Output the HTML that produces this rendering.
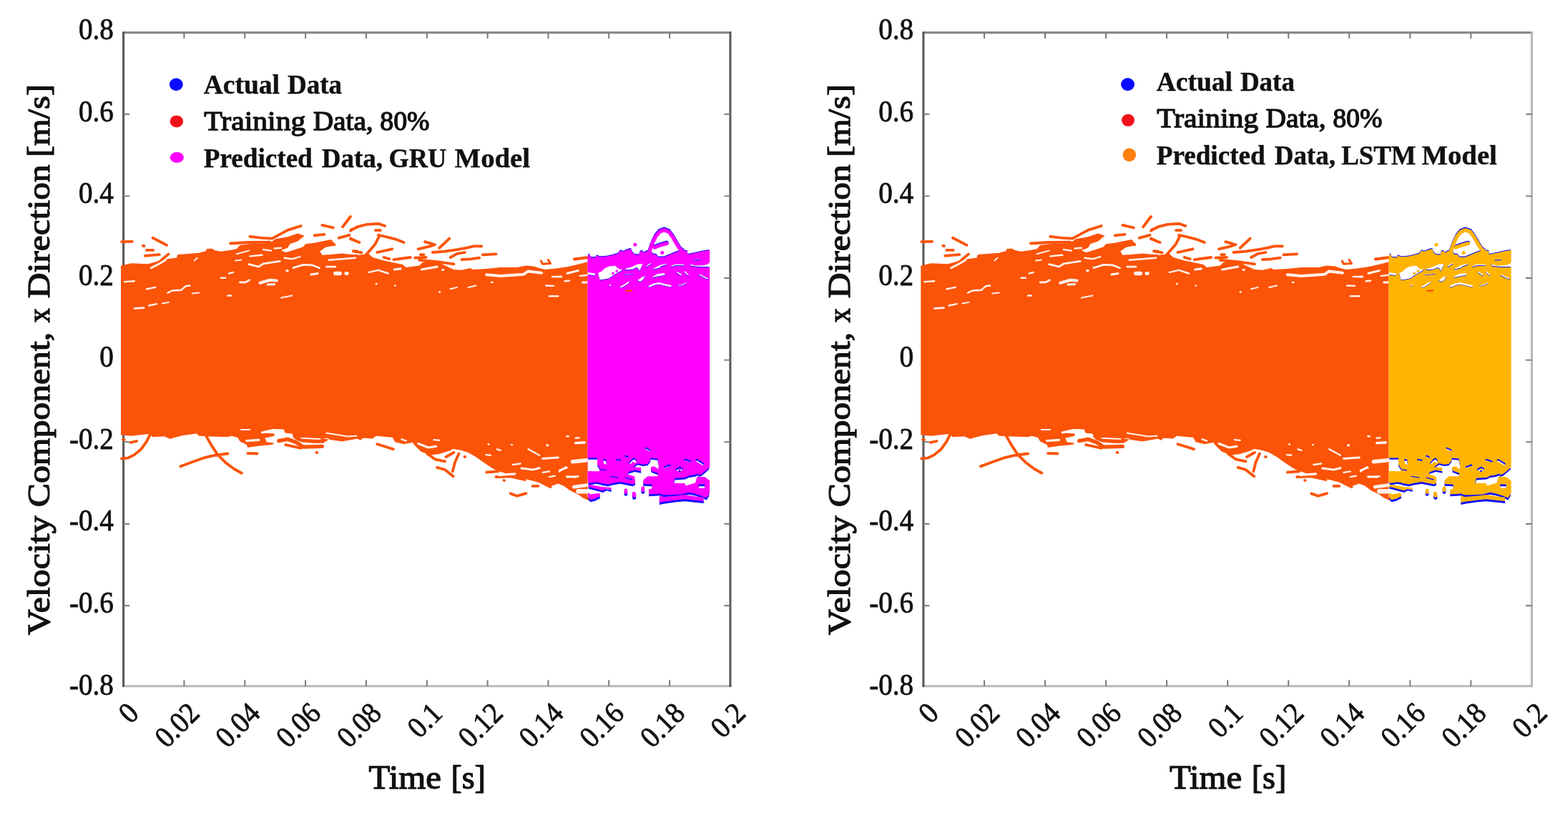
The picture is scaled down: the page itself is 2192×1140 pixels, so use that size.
<!DOCTYPE html>
<html lang="en"><head><meta charset="utf-8"><title>Velocity prediction: GRU vs LSTM</title>
<style>html,body{margin:0;padding:0;background:#fff;}body{width:2192px;height:1140px;overflow:hidden;}svg{display:block;}text{font-family:"Liberation Serif", serif;fill:#111;}.b{font-weight:normal;stroke:#111;stroke-width:1.3px;stroke-linejoin:round;}.bb{font-weight:bold;stroke:#111;stroke-width:.45px;stroke-linejoin:round;}.tk{font-size:41.6px;stroke:#111;stroke-width:.8px;}</style></head><body>
<svg width="2192" height="1140" viewBox="0 0 2192 1140">
<rect width="2192" height="1140" fill="#fff"/>
<defs>
<g id="train">
<path d="M169 371.6L170.1 371.6 183.3 368.2 206.6 369.3 222.1 365.1 234.5 362.3 246.9 360.4 248.5 356.1 278 353.7 288.1 351.1 288.9 348 296.6 347.7 300.5 350.2 309 351.7 321.5 349.9 330.8 348.3 335.4 342.9 348.6 341.3 377.4 339.8 385.1 334.3 402.2 331.2 416.2 326.6 425.5 329.7 416.2 337.4 405.3 341.3 402.2 346.8 392.9 349.9 399.1 353 408.4 350.6 423.9 345.2 427 341.3 439.5 339.8 462.7 335.1 466.6 339 468.2 342.9 455 346 447.2 351.4 450.3 356.8 462.7 356.1 478.3 354.5 489.1 355.8 500 356.1 499.3 356.8 508.6 356.1 513.3 353 521.1 360 536.6 364.6 549 366.9 563 370 567.6 373.9 586.3 371.6 590.9 366.9 601.8 364.6 614.2 366.9 622 371.6 634.4 377 645.3 377.8 657.7 375 660.8 377 676.3 376.3 699.6 373.9 722.9 373.9 735.3 371.6 746.2 372.4 753.9 375 761.7 377 777.2 375.5 792.7 373.2 808.3 369.7 821.5 366.2 821.5 366.2 821.5 698.2 823.8 698.2 816 694.8 809.8 690.4 800.5 685 789.6 680.3 780.3 676.4 769.5 680.3 753.9 674.9 738.4 671 722.9 667.1 707.4 662.5 691.8 657 685.6 653.2 676.3 646.9 665.4 639.2 654.6 633 645.3 629.9 635.9 628.3 629.7 628.3 614.2 633 598.7 633 589.4 630.6 583.2 625.2 576.9 619 564.5 621.3 552.1 618.2 549 612 525.7 609.7 521.1 613.6 507.1 612.8 504 615.9 497.8 612.8 500 613.6 478.3 617.4 461.2 615.1 458.1 612.8 447.2 613.9 431.7 614.3 420.8 611.5 410 611.2 408.4 606.6 399.1 605.8 396 601.1 377.4 601.1 364.9 605.3 383.6 606.6 383.6 609.7 370.4 612.8 372.7 618.2 383.6 619.8 380.5 622.1 361.8 623.7 346.3 626 344.7 622.1 335.4 617.4 332.3 612 323 609.7 318.4 611.2 292 610.5 278 609.7 274.9 606.6 256.3 608.9 246.9 611.2 237.6 613.9 229.9 610.5 212.8 611.2 209.7 606.9 203.5 607.4 183.3 609.7 170.1 608.4 169 608.4ZM408.8 610.6L447.9 613.2 460 614.4 452.2 619.7 439.2 619.9 421.8 618.4 413.2 615Z" fill="currentColor"/>
<path d="M756.3 365.1L758.6 369.3 769.5 368.5 766.3 363.5" fill="none" stroke="currentColor" stroke-width="3.1" stroke-linecap="round" stroke-linejoin="round"/>
<path d="M171.6 615.1L174 615.1M704.2 671.8L705 672.1" fill="none" stroke="currentColor" stroke-width="3.5" stroke-linecap="round" stroke-linejoin="round"/>
<path d="M170.1 338.2L184.8 337.8M213.6 332.8L233 342.9M205 349.9L214.3 349.9M202.7 357.9L222.9 356.1M206.6 373.9L222.1 366.9 235.3 355.6M322.2 340.5L347.9 339 377.4 338.7M349.4 330.9L366.5 332.8 380.5 333.6 402.2 321.9 420.8 316M450.3 314.9L465.8 318.5M479 317.3L489.9 303M439.5 329.4L453.4 327.8M473.6 332.8L488.4 328.9M490.7 321.6L500 317.6M489.9 333.6L500 338.2M451.9 342.9L467.4 342.1M493.8 351.1L500 351.7M490 322.7L499.3 317.3 513.3 313.8 528.8 312.9 538.1 316M524.9 322.2L531.9 322.2M490 334.3L502.4 339M528.8 328.9L536.6 330.5 552.1 334.3 564.5 339M530.7 329.4L524.2 342.1 513.3 354.5M494.7 351.7L505.5 353.3M527.3 353L548.2 348.3M536.6 360L544.3 362.3M550.5 363.1L573.8 360M584.7 348.3L598.7 345.2 608 342.1M594 338.2L604.9 341.3M614.2 346.8L628.2 333.6M604.9 353L622 351.7 639 349.1 651.5 346.8 662.3 344.4 673.2 344.4M629.7 360L639 354.8 649.9 353M645.3 363.1L657.7 362.3 670.1 360.7M674.7 356.4L693.4 355.3M580 360.7L595.6 360M587.8 356.1L592.5 356.1M586.3 363.8L611.1 366.2 634.4 369.3M803.6 362.6L820.7 360.3M170.1 641.5L178.6 640.7 187.9 636.1 197.3 628.3 205 617.4 209.7 608.1M182.5 619L191.1 617M252.4 652.4L268.7 646.2 284.2 640.7 299.7 636.8 318.4 634.5M287.3 608.1L295.1 622.1 304.4 636.1 315.3 646.9 327.7 656.3 337.8 661.7M346.3 634.2L359.5 634.5M399.1 622.1L420.8 626.8M527.3 621.3L549.8 628.3M580 620.5L589.4 629.9 601.8 634.5 614.2 633 629.7 628.3M597.1 634.5L608 642.3 622 645.4M623.5 639.2L634.4 633M611.1 653.9L622 657 633.6 666.3M632.8 659.4L635.9 646.9 641.4 634.5M680.2 660.6L696.5 659.4M693.4 667.1L713.6 666.3 733.7 671M744.6 679.9L752.4 679.9M713.6 690.4L722.9 693.8 735.3 690.1M753.9 673.3L769.5 681.1M783.4 673.3L797.4 684.2 809.8 690.4 816 695.1 823.8 698.2M802.8 362.5L820.6 360.1" fill="none" stroke="currentColor" stroke-width="3.8" stroke-linecap="round" stroke-linejoin="round"/>
<path d="M200.1 343.7L201.3 344M442.6 633L443.2 633M649.6 638.9L650.2 638.9" fill="none" stroke="currentColor" stroke-width="4" stroke-linecap="round" stroke-linejoin="round"/>
<path d="M389.8 616.7L402.2 614.3 414.6 619 423.9 625.2 450.3 624.4" fill="none" stroke="currentColor" stroke-width="5.3" stroke-linecap="round" stroke-linejoin="round"/>
<path d="M421.8 613L434.9 613.8 447.9 614.2" fill="none" stroke="#fff" stroke-width="1.3" stroke-linecap="round" stroke-linejoin="round" stroke-opacity=".92"/>
<path d="M420.8 612.8L447.2 613.7" fill="none" stroke="#fff" stroke-width="1.6" stroke-linecap="round" stroke-linejoin="round" stroke-opacity=".92"/>
<path d="M330.8 355.3L347.9 350.6M226.8 424.4L236.1 422.8M268.7 410.4L278 409.6M392.9 416.6L408.4 413.5M271.8 364.6L275.7 360.7M329.2 364.6L337 363.8M629.7 404.2L639 401.9M654.6 401.9L665.4 399.5M456.5 605.8L470.5 608.1 486 610.5 498.4 609.7M337 601.1L349.4 601.1" fill="none" stroke="#fff" stroke-width="2" stroke-linecap="round" stroke-linejoin="round" stroke-opacity=".92"/>
<path d="M459.6 363.8L478.3 362.3 496.9 360.7M368 349.1L378.9 350.6M383.6 347.5L392.9 346.8M349.4 358.4L366.5 356.8M397.5 360.7L408.4 362.3 419.3 359.2M208.1 427.5L219 425.2M205 404.2L217.4 401.9M234.5 409.6L240.7 406.5 253.2 405.8 259.4 400.3 265.6 399.5M174 394.1L187.9 393.3M309 388.7L315.3 388.7M319.9 382.5L326.1 380.9M318.4 413.5L323 413.5M515.6 380.9L528.8 377.8 542.8 382.5M771.8 387.1L785 386.8M792.7 382.5L808.3 378.6M789.6 393.3L794.3 393M763.2 399.5L774.1 399.9M767.9 414.3L780.3 414.3M687.2 394.9L688.7 394.9M614.2 408.5L615.1 408.5M552.1 399.5L552.7 399.5M525.7 397.2L526.6 396.9M789.9 393.3L796 392.7M780 387.2L784.9 387.2M810.8 385.9L821.3 384.7M716.7 650L727.5 648.5M738.4 628.3L753.9 636.8M679.4 636.1L685.6 636.8M694.9 628.3L699.6 629.9M781.9 659.4L791.2 653.2M767.9 667.1L775.7 665.6M758.6 660.9L767.9 659.4M606.4 615.1L614.2 615.9M561.4 614.3L567.6 616.7M682.5 621.3L683.4 621.6M715.1 622.1L716 622.1M792.3 610.3L794.8 610.3M804.6 612.8L809.6 612.4M792.3 666.4L804.6 667.6" fill="none" stroke="#fff" stroke-width="2.4" stroke-linecap="round" stroke-linejoin="round" stroke-opacity=".92"/>
<path d="M347.9 369.7L361.8 373.2 368 368.8 391.3 365.4M410 374.7L423.9 370.4 436.3 370.8 446.4 374.7M187.9 431.4L201.1 430.6M335.4 394.9L343.2 394.9 348.6 391.8M434.8 384L444.1 382.5M456.5 373.2L468.9 373.2M211.2 374.7L222.1 369.3 231.4 363.8M618.5 377.5L619.8 377.5M814.5 394.9L820.7 394.9M793.5 382.2L808.3 378.5M814.5 395.2L820.6 395.2M792.7 667.1L808.3 666.3M805.2 619.8L817.6 619M782.5 657.7L792.3 654.1" fill="none" stroke="#fff" stroke-width="2.8" stroke-linecap="round" stroke-linejoin="round" stroke-opacity=".92"/>
<path d="M374.2 398L383.6 397.7M400.6 378.6L402.2 378.6M551.3 377L559.9 375.9M589.4 377L611.1 373.2M366.5 605L382 601.6 396 602.2M344.7 616.7L361.8 615.4M584.7 620.5L598.7 626 609.5 624.4M729.1 655L744.6 657 753.9 654.7M758.6 641.5L780.3 640M764.8 622.9L765.7 622.9M698 664.3L719.8 662.8M804.6 619.6L817 618.9" fill="none" stroke="#fff" stroke-width="3.2" stroke-linecap="round" stroke-linejoin="round" stroke-opacity=".92"/>
<path d="M363.4 395.7L377.4 391.8 386.7 392.6M680.2 384.3L699.6 385.9 732.2 383.7 738.4 379.4 757 381.7" fill="none" stroke="#fff" stroke-width="4" stroke-linecap="round" stroke-linejoin="round" stroke-opacity=".92"/>
<path d="M483.7 382.5L485.3 382.5M802.2 681.1L820.6 678.7" fill="none" stroke="#fff" stroke-width="4.8" stroke-linecap="round" stroke-linejoin="round" stroke-opacity=".92"/>
<path d="M468.9 382.5L475.2 382.5M800.5 645.7L820.7 643.8" fill="none" stroke="#fff" stroke-width="5.6" stroke-linecap="round" stroke-linejoin="round" stroke-opacity=".92"/>
<path d="M808.3 687.3L821.3 687.3" fill="none" stroke="#fff" stroke-width="6.4" stroke-linecap="round" stroke-linejoin="round" stroke-opacity=".92"/>
</g>
<mask id="pm" maskUnits="userSpaceOnUse" x="815" y="300" width="185" height="420">
<rect x="815" y="300" width="185" height="420" fill="#fff"/>
<path d="M835.8 382.1L841.1 379.5 845.4 375.2 851.5 372.6 860.2 371.7 863.6 375.2 867.1 376.9 871.4 377.3 867.1 380.4 861.9 383 856.7 386.4 851.5 389.9 841.1 392.1 838.4 391.7ZM872.3 376.5L882.7 373.4 891.4 369.5 898.4 369.1 897.5 372.6 894 379.9 891.9 376 888.8 375.2 884.5 377.3 875.8 378.2ZM911.4 376.9L919.2 372.6 923.5 370.4 932.2 369.1 932.2 370.8 923.5 373.4 922.7 375.2 914 377.3ZM912.3 387.3L919.2 383.1 929.6 382.1 929.6 385.6 919.2 387.3 912.3 389ZM890.5 392.5L896.6 388.2 902.7 385.6 898.4 392.5 894.9 394.7ZM943.5 670.6L959.1 668 973 663.6 976.5 662.3 974.3 667.1 972.2 674.9 966.1 676.7 959.1 679.3 957.4 675.8 942.7 674.9ZM976.5 677.5L985.2 677.5 985.2 682.7 977.4 682.7ZM821.5 640.4L835 640.4 835.1 649.7 838.9 655.8 837.4 658.9 821.5 658.9ZM842.8 641.9L847.1 642.8 848 649.7 844.5 648.9ZM878.4 648L883.6 641.9 887.1 640.2 889.7 643.7 888.8 648 884.5 645.4 881.9 648.9ZM963.5 369.2L972.2 371.5 983.2 371.3 989.4 369.5 993 366.5 993 373.9 977.1 373.9 966 372.8Z" fill="#000"/>
<path d="M872.3 384.7L886.2 383" fill="none" stroke="#000" stroke-width="1.2" stroke-linecap="round" stroke-linejoin="round"/>
<path d="M839.3 656.9L846.3 657.7M853.2 666.4L863.6 668.1M874 668.1L883.6 670.7M831.5 674.9L839.3 675.8" fill="none" stroke="#000" stroke-width="1.4" stroke-linecap="round" stroke-linejoin="round"/>
<path d="M969.6 363.9L978.3 363" fill="none" stroke="#000" stroke-width="1.5" stroke-linecap="round" stroke-linejoin="round"/>
<path d="M948.7 399.5L953.9 398.6 959.1 396.2" fill="none" stroke="#000" stroke-width="1.6" stroke-linecap="round" stroke-linejoin="round"/>
<path d="M945.3 656.7L950.5 653.6 953.9 656 950.5 659.3 945.3 656.7" fill="none" stroke="#000" stroke-width="2" stroke-linecap="round" stroke-linejoin="round"/>
<path d="M904.4 372.6L909.7 369.1M939.2 372.6L945.3 370.6 955.7 371M957.4 380.5L961.8 384.7M978.3 384.9L985.2 388.2 989.1 389.9M874 637.8L877.5 639.3M861.9 643L867.1 643.8" fill="none" stroke="#000" stroke-width="2.2" stroke-linecap="round" stroke-linejoin="round"/>
<path d="M947 381.4L952.2 384.7M957.4 643L965.2 645.6" fill="none" stroke="#000" stroke-width="2.4" stroke-linecap="round" stroke-linejoin="round"/>
<path d="M868 401.6L874 398.6 878.4 395.3M853 399.5L853.4 399.5M929.6 653.2L936.6 650.8" fill="none" stroke="#000" stroke-width="2.6" stroke-linecap="round" stroke-linejoin="round"/>
<path d="M902.7 627.2L907.9 629.8" fill="none" stroke="#000" stroke-width="2.8" stroke-linecap="round" stroke-linejoin="round"/>
<path d="M907.9 400.8L914.9 397.7 921.8 396.6 929.6 398.6 937.4 400.3" fill="none" stroke="#000" stroke-width="3" stroke-linecap="round" stroke-linejoin="round"/>
<path d="M973.9 643.8L982.6 649" fill="none" stroke="#000" stroke-width="3.4" stroke-linecap="round" stroke-linejoin="round"/>
<path d="M820.2 382.5L830.6 384" fill="none" stroke="#000" stroke-width="3.6" stroke-linecap="round" stroke-linejoin="round"/>
</mask>
<g id="pred" mask="url(#pm)">
<path d="M821.4 358.7L821.5 358.7 822.4 355.9 824.1 355.9 825 359.1 826.3 360 832.4 360.4 833.7 358 835.4 358 838.4 359.3 848 358.8 855.8 357.1 863.6 354.9 867.1 350.8 869.3 350.8 870.6 352.1 875.8 349.8 881.9 348.1 883.6 352.8 887.1 356.1 893.2 356.7 894.9 351.5 898.4 351.1 899.2 353.6 905.3 351 908.8 347.8 912.3 355.4 917.5 356.2 920.1 359.7 927.9 359.7 936.6 356.2 945.3 352.4 950.5 351.1 953.9 351.1 960.9 351.1 961.3 356.1 971.3 354.1 984.3 351.1 992.1 350.1 992.2 350.1 992.2 652.3 992.1 652.3 988.7 653.2 983.5 656.7 976.5 660.2 962.6 661.9 950.5 663.6 943.5 660.2 936.6 656.7 927.9 655.8 920.5 656.7 920.9 649.7 919.2 641.5 909.7 640.6 908.8 644.5 905.3 648.9 898.4 649.7 891.4 648 884.5 653.2 881 653.2 875.8 648 863.6 648 849.7 651.5 837.6 658.9 821.5 659.3 821.4 659.3ZM835 643.7L841.1 641.1 846.3 643.7 848 649.7 853.2 649.7 863.6 645.4 875.8 646.3 877.5 648.9 884.5 653.2 895.8 654.1 896.2 659.3 887.1 657.6 878.4 660.2 877.5 663.6 887.1 666.2 887.9 675.8 884.5 677.5 867.1 674 856.7 675.8 849.7 677.5 839.3 675.8 830.6 674.9 822.8 675.8 821.5 671.4 821.5 659.3 837.6 659.3 839.3 655.8 835 649.7ZM822.4 677.5L841.1 681 854.1 681.9 854.9 685.3 848 683.6 842.8 686.2 827.2 681.9 822.4 681ZM821.8 688.8L825.4 691.4 838.4 689.7 838.9 694 832.4 697.5 825.4 699.2 822.4 696.2ZM909.7 653.2L914.9 652.3 920.9 656.7 927.9 655.8 936.6 656.7 943.5 660.2 950.5 663.6 962.6 661.9 976.5 660.2 983.5 656.7 988.7 653.2 992.1 652.3 992.1 653.6 984.3 660.2 980 663.6 962.6 665.4 958.3 668 943.5 668.8 941.8 675.8 957.4 675.8 958.3 679.3 971.3 675.8 973.9 667.1 985.2 667.1 992.1 672.3 992.1 689.7 987.8 696.6 980 693.2 971.3 690.5 962.6 688.8 952.2 691.4 936.6 692.3 926.2 692.3 922.7 690.5 907 691.4 907 684.5 911.4 683.6 911.4 677.5 899.2 677.1 899.2 671.4 905.3 666.2 919.2 666.2 920.1 661.9 910.5 658.4ZM921.8 693.6L927.9 695.1 945.3 693.6 957.4 692.1 971.3 694.2 983.5 695.8 983.9 701 971.3 699.7 957.4 698.2 945.3 699.4 927.9 701.8 921.8 703.1ZM960.9 356.1L971.3 354.1 984.3 351.1 992.1 350.1 992.3 356.1 988.7 362.1 980 367.3 971.3 369.1 964.4 367.5 961.8 364.9Z" fill="currentColor"/>
<path d="M874.9 685.8L874.9 688.6" fill="none" stroke="currentColor" stroke-width="4.6" stroke-linecap="round" stroke-linejoin="round"/>
<path d="M898.8 682.6L898.8 685.7" fill="none" stroke="currentColor" stroke-width="4.8" stroke-linecap="round" stroke-linejoin="round"/>
<path d="M914.9 346.1L923.5 343 932.2 340.6" fill="none" stroke="currentColor" stroke-width="5" stroke-linecap="round" stroke-linejoin="round"/>
<path d="M908.7 349.6L912.4 339.7 916.7 330.7 921.9 324.3 928.4 321.8 935 324.3 939.9 330.7 945.1 339.7 950 347.7 954.9 351.7M886.2 690.4L886.7 693.3" fill="none" stroke="currentColor" stroke-width="5.2" stroke-linecap="round" stroke-linejoin="round"/>
</g>
<g id="pdots" fill="currentColor"><circle cx="887.8" cy="342.2" r="2.5"/><circle cx="925.7" cy="353.6" r="2.5"/><circle cx="856.9" cy="382.3" r="1.9"/><circle cx="862.3" cy="379.1" r="1.9"/><path d="M875.4 406.8L883.2 406.4" fill="none" stroke="#ff4a10" stroke-width="2.2" stroke-linecap="round"/></g>
<clipPath id="bc"><rect x="822.3" y="290" width="169" height="440"/></clipPath>
</defs>
<g id="plot1">
<g fill="none" stroke-width="3.1">
<path d="M171.2 959.7H1022.3" stroke="#b8b8b8"/>
<path d="M171.2 45.6H1022.3" stroke="#8a8a8a"/>
<path d="M172.6 44.2V961.1" stroke="#5a5a5a"/>
<path d="M1020.9 44.2V961.1" stroke="#5a5a5a"/>
</g>
<path d="M257.4 959.7v-8.5M257.4 45.6v8.5M342.3 959.7v-8.5M342.3 45.6v8.5M427.1 959.7v-8.5M427.1 45.6v8.5M511.9 959.7v-8.5M511.9 45.6v8.5M596.8 959.7v-8.5M596.8 45.6v8.5M681.6 959.7v-8.5M681.6 45.6v8.5M766.4 959.7v-8.5M766.4 45.6v8.5M851.2 959.7v-8.5M851.2 45.6v8.5M936.1 959.7v-8.5M936.1 45.6v8.5M172.6 159.8h8.5M1020.9 159.8h-8.5M172.6 274.4h8.5M1020.9 274.4h-8.5M172.6 389.0h8.5M1020.9 389.0h-8.5M172.6 503.6h8.5M1020.9 503.6h-8.5M172.6 618.1h8.5M1020.9 618.1h-8.5M172.6 732.7h8.5M1020.9 732.7h-8.5M172.6 847.3h8.5M1020.9 847.3h-8.5" stroke="#777" stroke-width="1.9" fill="none"/>
<g>
<use href="#train" style="color:#fb5307"/>
<use href="#pred" style="color:#1010ff" clip-path="url(#bc)" transform="translate(0 503.4) scale(1 1.012) translate(0 -502.8)"/>
<use href="#pred" style="color:#ff00ff"/>
<use href="#pdots" style="color:#ff00ff"/>
</g>
<g class="tk" text-anchor="end">
<text transform="translate(158.8 54.9) scale(.94 1)">0.8</text>
<text transform="translate(158.8 169.5) scale(.94 1)">0.6</text>
<text transform="translate(158.8 284.1) scale(.94 1)">0.4</text>
<text transform="translate(158.8 398.7) scale(.94 1)">0.2</text>
<text transform="translate(158.8 513.2) scale(.94 1)">0</text>
<text transform="translate(158.8 627.8) scale(.94 1)">-0.2</text>
<text transform="translate(158.8 742.4) scale(.94 1)">-0.4</text>
<text transform="translate(158.8 857.0) scale(.94 1)">-0.6</text>
<text transform="translate(158.8 971.6) scale(.94 1)">-0.8</text>
</g>
<g class="tk" text-anchor="end">
<text transform="translate(196.2 1000.0) rotate(-45) scale(.93 1)">0</text>
<text transform="translate(281.0 1000.0) rotate(-45) scale(.93 1)">0.02</text>
<text transform="translate(365.9 1000.0) rotate(-45) scale(.93 1)">0.04</text>
<text transform="translate(450.7 1000.0) rotate(-45) scale(.93 1)">0.06</text>
<text transform="translate(535.5 1000.0) rotate(-45) scale(.93 1)">0.08</text>
<text transform="translate(620.4 1000.0) rotate(-45) scale(.93 1)">0.1</text>
<text transform="translate(705.2 1000.0) rotate(-45) scale(.93 1)">0.12</text>
<text transform="translate(790.0 1000.0) rotate(-45) scale(.93 1)">0.14</text>
<text transform="translate(874.8 1000.0) rotate(-45) scale(.93 1)">0.16</text>
<text transform="translate(959.7 1000.0) rotate(-45) scale(.93 1)">0.18</text>
<text transform="translate(1044.5 1000.0) rotate(-45) scale(.93 1)">0.2</text>
</g>
<g class="b" font-size="45.6">
<text><tspan x="515.6" y="1103.2" textLength="101.2" lengthAdjust="spacingAndGlyphs">Time</tspan> <tspan x="630.4" y="1103.2" textLength="48.4" lengthAdjust="spacingAndGlyphs">[s]</tspan></text>
</g>
<g class="b" font-size="45" transform="translate(69.4 888) rotate(-90)">
<text><tspan x="-0.2" y="0.0" textLength="167.0" lengthAdjust="spacingAndGlyphs">Velocity</tspan> <tspan x="178.8" y="0.0" textLength="244.4" lengthAdjust="spacingAndGlyphs">Component,</tspan> <tspan x="436.8" y="0.0" textLength="20.2" lengthAdjust="spacingAndGlyphs">x</tspan> <tspan x="470.8" y="0.0" textLength="187.1" lengthAdjust="spacingAndGlyphs">Direction</tspan> <tspan x="668.3" y="0.0" textLength="101.8" lengthAdjust="spacingAndGlyphs">[m/s]</tspan></text>
</g>
<ellipse cx="246.3" cy="118.1" rx="9.5" ry="8.8" fill="#0a0aff"/>
<ellipse cx="246.8" cy="169.8" rx="9.2" ry="8.4" fill="#f0101a"/>
<ellipse cx="247.3" cy="220.2" rx="9.6" ry="7.5" fill="#ff00ff"/>
<text class="bb" font-size="38.2"><tspan x="284.8" y="131.0" textLength="106.2" lengthAdjust="spacingAndGlyphs">Actual</tspan> <tspan x="402.0" y="131.0" textLength="76.0" lengthAdjust="spacingAndGlyphs">Data</tspan></text>
<text class="b" font-size="37.2"><tspan x="285.3" y="181.8" textLength="142.0" lengthAdjust="spacingAndGlyphs">Training</tspan> <tspan x="437.7" y="181.8" textLength="84.0" lengthAdjust="spacingAndGlyphs">Data,</tspan> <tspan x="531.3" y="181.8" textLength="69.2" lengthAdjust="spacingAndGlyphs">80%</tspan></text>
<text class="bb" font-size="38.2"><tspan x="284.8" y="234.2" textLength="152.0" lengthAdjust="spacingAndGlyphs">Predicted</tspan> <tspan x="449.8" y="234.2" textLength="85.2" lengthAdjust="spacingAndGlyphs">Data,</tspan> <tspan x="543.6" y="234.2" textLength="80.6" lengthAdjust="spacingAndGlyphs">GRU</tspan> <tspan x="635.6" y="234.2" textLength="105.4" lengthAdjust="spacingAndGlyphs">Model</tspan></text>
</g>
<g id="plot2">
<g fill="none" stroke-width="3.1">
<path d="M1289.5 959.7H2142.8" stroke="#b8b8b8"/>
<path d="M1289.5 45.6H2142.8" stroke="#8a8a8a"/>
<path d="M1290.9 44.2V961.1" stroke="#5a5a5a"/>
<path d="M2141.4 44.2V961.1" stroke="#b8b8b8"/>
</g>
<path d="M1376.0 959.7v-8.5M1376.0 45.6v8.5M1461.0 959.7v-8.5M1461.0 45.6v8.5M1546.1 959.7v-8.5M1546.1 45.6v8.5M1631.1 959.7v-8.5M1631.1 45.6v8.5M1716.2 959.7v-8.5M1716.2 45.6v8.5M1801.2 959.7v-8.5M1801.2 45.6v8.5M1886.2 959.7v-8.5M1886.2 45.6v8.5M1971.3 959.7v-8.5M1971.3 45.6v8.5M2056.3 959.7v-8.5M2056.3 45.6v8.5M1290.9 159.8h8.5M2141.4 159.8h-8.5M1290.9 274.4h8.5M2141.4 274.4h-8.5M1290.9 389.0h8.5M2141.4 389.0h-8.5M1290.9 503.6h8.5M2141.4 503.6h-8.5M1290.9 618.1h8.5M2141.4 618.1h-8.5M1290.9 732.7h8.5M2141.4 732.7h-8.5M1290.9 847.3h8.5M2141.4 847.3h-8.5" stroke="#777" stroke-width="1.9" fill="none"/>
<g transform="translate(1117.85 0) scale(1.00259 1)">
<use href="#train" style="color:#fb5307"/>
<use href="#pred" style="color:#1010ff" clip-path="url(#bc)" transform="translate(0 503.4) scale(1 1.012) translate(0 -502.8)"/>
<use href="#pred" style="color:#ffb400"/>
<use href="#pdots" style="color:#ffb400"/>
</g>
<g class="tk" text-anchor="end">
<text transform="translate(1277.1 54.9) scale(.94 1)">0.8</text>
<text transform="translate(1277.1 169.5) scale(.94 1)">0.6</text>
<text transform="translate(1277.1 284.1) scale(.94 1)">0.4</text>
<text transform="translate(1277.1 398.7) scale(.94 1)">0.2</text>
<text transform="translate(1277.1 513.2) scale(.94 1)">0</text>
<text transform="translate(1277.1 627.8) scale(.94 1)">-0.2</text>
<text transform="translate(1277.1 742.4) scale(.94 1)">-0.4</text>
<text transform="translate(1277.1 857.0) scale(.94 1)">-0.6</text>
<text transform="translate(1277.1 971.6) scale(.94 1)">-0.8</text>
</g>
<g class="tk" text-anchor="end">
<text transform="translate(1314.5 1000.0) rotate(-45) scale(.93 1)">0</text>
<text transform="translate(1399.5 1000.0) rotate(-45) scale(.93 1)">0.02</text>
<text transform="translate(1484.6 1000.0) rotate(-45) scale(.93 1)">0.04</text>
<text transform="translate(1569.7 1000.0) rotate(-45) scale(.93 1)">0.06</text>
<text transform="translate(1654.7 1000.0) rotate(-45) scale(.93 1)">0.08</text>
<text transform="translate(1739.8 1000.0) rotate(-45) scale(.93 1)">0.1</text>
<text transform="translate(1824.8 1000.0) rotate(-45) scale(.93 1)">0.12</text>
<text transform="translate(1909.8 1000.0) rotate(-45) scale(.93 1)">0.14</text>
<text transform="translate(1994.9 1000.0) rotate(-45) scale(.93 1)">0.16</text>
<text transform="translate(2079.9 1000.0) rotate(-45) scale(.93 1)">0.18</text>
<text transform="translate(2165.0 1000.0) rotate(-45) scale(.93 1)">0.2</text>
</g>
<g class="b" font-size="45.6">
<text><tspan x="1635.0" y="1103.2" textLength="101.2" lengthAdjust="spacingAndGlyphs">Time</tspan> <tspan x="1749.8" y="1103.2" textLength="48.4" lengthAdjust="spacingAndGlyphs">[s]</tspan></text>
</g>
<g class="b" font-size="45" transform="translate(1188.4 888) rotate(-90)">
<text><tspan x="-0.2" y="0.0" textLength="167.0" lengthAdjust="spacingAndGlyphs">Velocity</tspan> <tspan x="178.8" y="0.0" textLength="244.4" lengthAdjust="spacingAndGlyphs">Component,</tspan> <tspan x="436.8" y="0.0" textLength="20.2" lengthAdjust="spacingAndGlyphs">x</tspan> <tspan x="470.8" y="0.0" textLength="187.1" lengthAdjust="spacingAndGlyphs">Direction</tspan> <tspan x="668.3" y="0.0" textLength="101.8" lengthAdjust="spacingAndGlyphs">[m/s]</tspan></text>
</g>
<ellipse cx="1576.5" cy="118.0" rx="9.5" ry="8.9" fill="#0a0aff"/>
<ellipse cx="1577.0" cy="168.1" rx="9.0" ry="8.6" fill="#f0101a"/>
<ellipse cx="1578.8" cy="216.6" rx="9.3" ry="9.4" fill="#ff7f10"/>
<text class="bb" font-size="38.2"><tspan x="1616.7" y="127.0" textLength="106.2" lengthAdjust="spacingAndGlyphs">Actual</tspan> <tspan x="1733.9" y="127.0" textLength="76.0" lengthAdjust="spacingAndGlyphs">Data</tspan></text>
<text class="b" font-size="37.2"><tspan x="1617.2" y="177.8" textLength="142.0" lengthAdjust="spacingAndGlyphs">Training</tspan> <tspan x="1769.6" y="177.8" textLength="84.0" lengthAdjust="spacingAndGlyphs">Data,</tspan> <tspan x="1863.2" y="177.8" textLength="69.2" lengthAdjust="spacingAndGlyphs">80%</tspan></text>
<text class="bb" font-size="38.2"><tspan x="1616.7" y="230.2" textLength="152.0" lengthAdjust="spacingAndGlyphs">Predicted</tspan> <tspan x="1781.7" y="230.2" textLength="85.2" lengthAdjust="spacingAndGlyphs">Data,</tspan> <tspan x="1875.3" y="230.2" textLength="104.2" lengthAdjust="spacingAndGlyphs">LSTM</tspan> <tspan x="1987.5" y="230.2" textLength="105.3" lengthAdjust="spacingAndGlyphs">Model</tspan></text>
</g>
</svg></body></html>
